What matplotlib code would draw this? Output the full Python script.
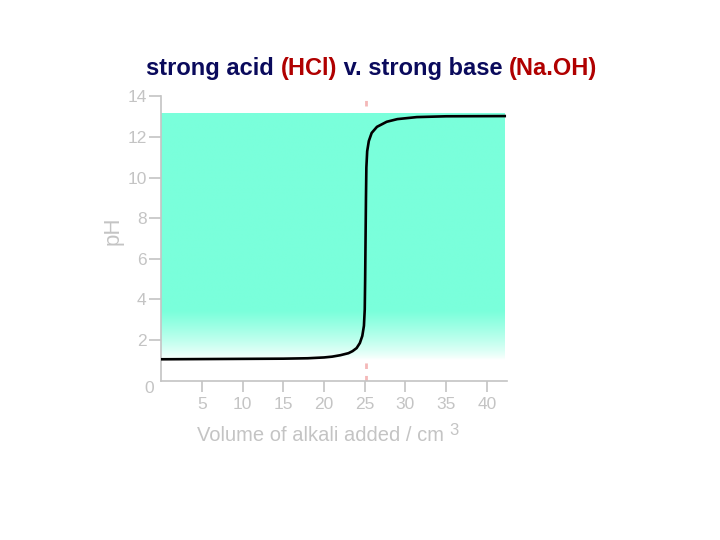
import numpy as np
import matplotlib.pyplot as plt
from matplotlib.colors import to_rgb

# titration curve: volume of NaOH (cm3) vs pH
volume = [0, 5, 10, 15, 18, 20, 21, 22, 23, 23.5, 24, 24.4, 24.7, 24.9, 25.0,
          25.05, 25.1, 25.15, 25.2, 25.3, 25.5, 25.85, 26.5, 27.7, 29, 31.4, 35, 42.2]
ph = [1.05, 1.06, 1.07, 1.08, 1.10, 1.14, 1.18, 1.25, 1.35, 1.45, 1.60, 1.85, 2.2,
      2.7, 3.5, 5.0, 7.0, 9.0, 10.5, 11.3, 11.8, 12.2, 12.5, 12.75, 12.88, 12.98,
      13.02, 13.03]

x_ticks = [5, 10, 15, 20, 25, 30, 35, 40]
y_ticks = [2, 4, 6, 8, 10, 12, 14]
equivalence = 25.1

grey = '#c4c4c4'
fill = '#7affdb'
navy = '#0a0a5c'
red = '#b00000'

plt.rcParams['font.family'] = ['Liberation Sans', 'DejaVu Sans']

fig = plt.figure(figsize=(7.2, 5.4), dpi=100)
ax = fig.add_axes([0.224, 0.2952, 0.4804, 0.5263])
ax.set_xlim(0, 42.5)
ax.set_ylim(0, 14)

# shaded band fading to white at the bottom
levels = np.linspace(1.0, 13.13, 400)
alpha = np.clip((levels - 1.0) / 2.4, 0, 1) ** 0.8
c = np.array(to_rgb(fill))
img = (1 - alpha[:, None]) * np.ones(3) + alpha[:, None] * c
img = np.repeat(img[:, None, :], 2, axis=1)
ax.imshow(img, extent=(0, 42.2, 1.0, 13.13), origin='lower', aspect='auto',
          interpolation='bilinear', zorder=1)

ax.axvline(equivalence, color='#f4b8b8', lw=2, ls=(0, (2, 2.5)), zorder=0)
ax.plot(volume, ph, color='black', lw=1.9, zorder=3)

for side in ['top', 'right']:
    ax.spines[side].set_visible(False)
for side in ['left', 'bottom']:
    ax.spines[side].set_color(grey)
    ax.spines[side].set_linewidth(1.2)

ax.set_xticks(x_ticks)
ax.set_yticks(y_ticks)
ax.tick_params(axis='x', colors=grey, labelcolor=grey, length=8, width=1.2,
               pad=4, labelsize=12.5)
ax.tick_params(axis='y', colors=grey, labelcolor=grey, length=8.5, width=1.2,
               pad=2, labelsize=12.5)
ax.text(-0.9, 0.0, '0', color=grey, fontsize=12.5, ha='right', va='top')

fig.text(0.157, 0.573, 'pH', color=grey, fontsize=16, rotation=90,
         ha='center', va='center')
fig.text(0.273, 0.194, 'Volume of alkali added / cm', color=grey,
         fontsize=14.5, ha='left', va='center')
fig.text(0.624, 0.203, '3', color=grey, fontsize=12, ha='left', va='center')

# multi-coloured title, pieces placed one after another
parts = [('strong acid ', navy), ('(HCl)', red), (' v. strong base ', navy),
         ('(Na.OH)', red)]
fig.canvas.draw()
renderer = fig.canvas.get_renderer()
x0 = 0.203
for text, col in parts:
    t = fig.text(x0, 0.862, text, color=col, fontsize=17, fontweight='bold',
                 ha='left', va='baseline')
    bb = t.get_window_extent(renderer)
    x0 += bb.width / fig.bbox.width

fig.savefig('out.png', dpi=100)
